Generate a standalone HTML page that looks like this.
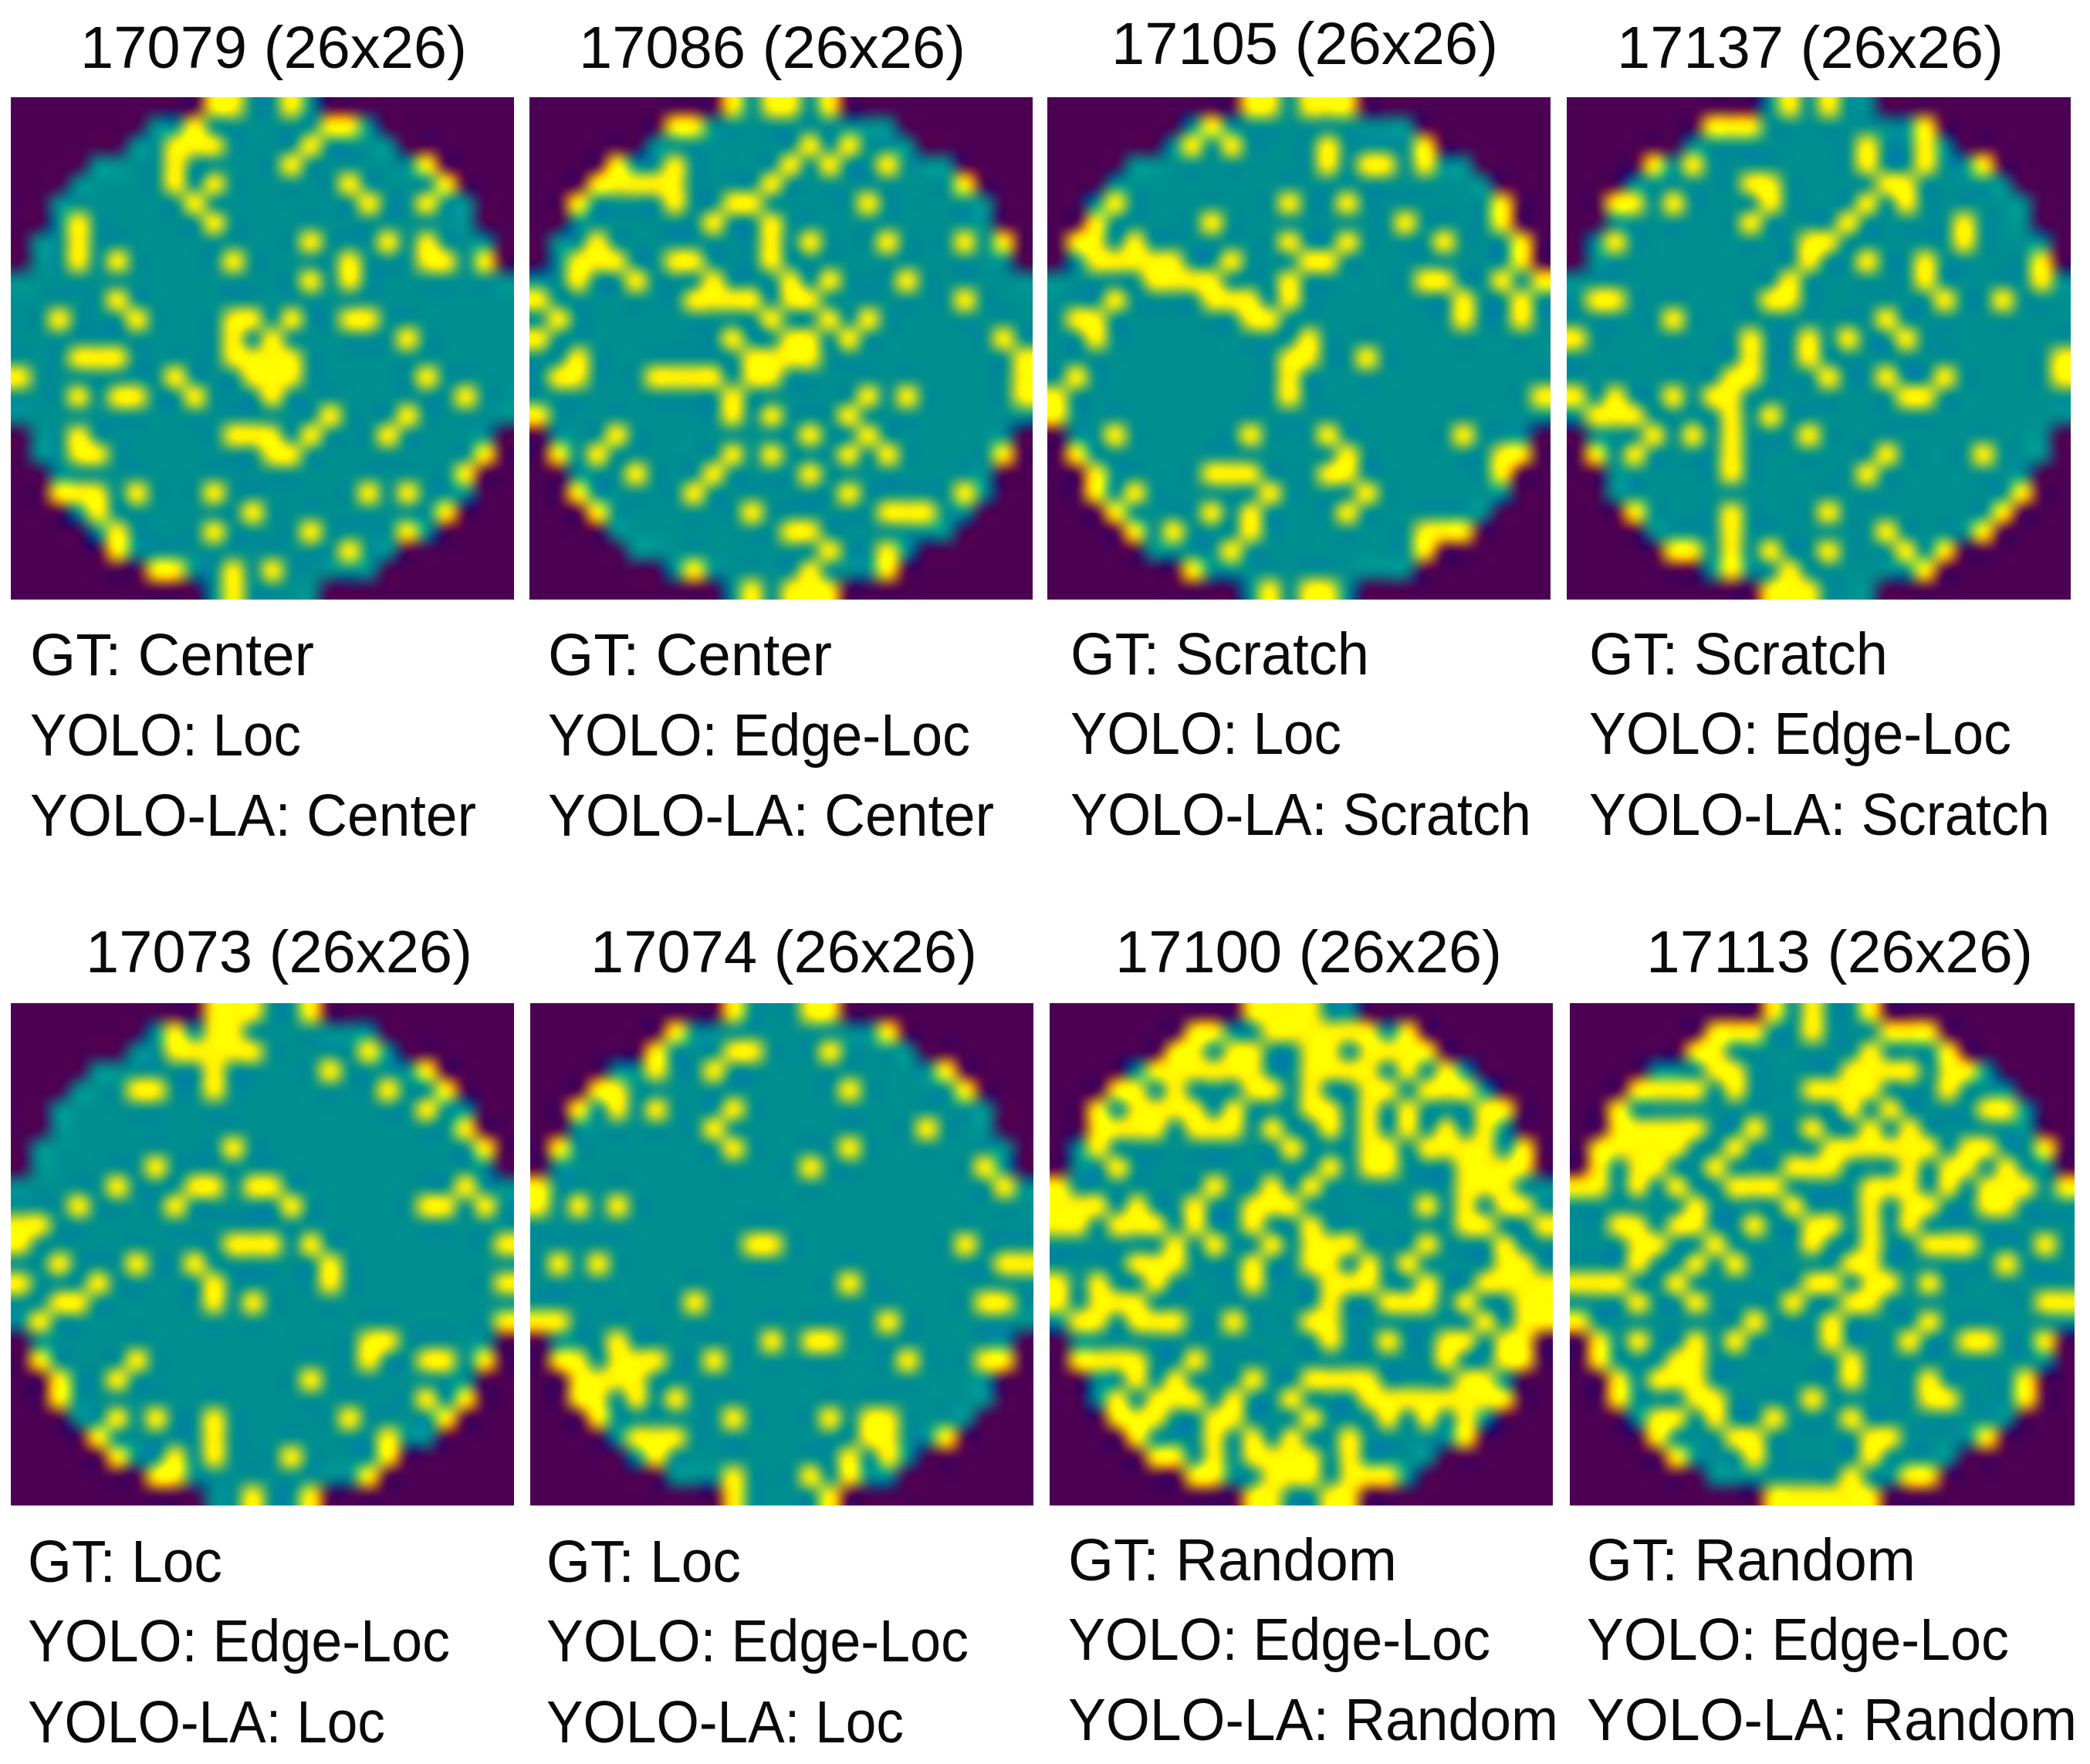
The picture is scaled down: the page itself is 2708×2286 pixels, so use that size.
<!DOCTYPE html>
<html lang="en">
<head>
<meta charset="utf-8">
<title>Wafer map predictions</title>
<style>
  html, body { margin: 0; padding: 0; background: #ffffff; }
  #figure { position: relative; width: 2708px; height: 2286px; overflow: hidden; background: #ffffff; }
  canvas { position: absolute; display: block; }
  svg { position: absolute; left: 0; top: 0; }
  text { font-family: "Liberation Sans", sans-serif; font-size: 77px; fill: #0a0a0a; }
</style>
</head>
<body>
<div id="figure">
  <canvas id="w17079" width="652" height="651" style="left:14px;top:126px"></canvas>
  <canvas id="w17086" width="652" height="651" style="left:686px;top:126px"></canvas>
  <canvas id="w17105" width="652" height="651" style="left:1357px;top:126px"></canvas>
  <canvas id="w17137" width="653" height="651" style="left:2030px;top:126px"></canvas>
  <canvas id="w17073" width="652" height="651" style="left:14px;top:1300px"></canvas>
  <canvas id="w17074" width="652" height="651" style="left:687px;top:1300px"></canvas>
  <canvas id="w17100" width="652" height="651" style="left:1360px;top:1300px"></canvas>
  <canvas id="w17113" width="654" height="651" style="left:2034px;top:1300px"></canvas>

  <svg width="2708" height="2286" viewBox="0 0 2708 2286" xmlns="http://www.w3.org/2000/svg">
    <text x="104" y="88" textLength="501" lengthAdjust="spacingAndGlyphs">17079 (26x26)</text>
    <text x="39" y="875" textLength="368" lengthAdjust="spacingAndGlyphs">GT: Center</text>
    <text x="39" y="979" textLength="351" lengthAdjust="spacingAndGlyphs">YOLO: Loc</text>
    <text x="39" y="1083" textLength="578" lengthAdjust="spacingAndGlyphs">YOLO-LA: Center</text>

    <text x="750" y="88" textLength="501" lengthAdjust="spacingAndGlyphs">17086 (26x26)</text>
    <text x="710" y="875" textLength="368" lengthAdjust="spacingAndGlyphs">GT: Center</text>
    <text x="710" y="979" textLength="547" lengthAdjust="spacingAndGlyphs">YOLO: Edge-Loc</text>
    <text x="710" y="1083" textLength="578" lengthAdjust="spacingAndGlyphs">YOLO-LA: Center</text>

    <text x="1440" y="83" textLength="501" lengthAdjust="spacingAndGlyphs">17105 (26x26)</text>
    <text x="1387" y="874" textLength="387" lengthAdjust="spacingAndGlyphs">GT: Scratch</text>
    <text x="1387" y="977" textLength="351" lengthAdjust="spacingAndGlyphs">YOLO: Loc</text>
    <text x="1387" y="1082" textLength="597" lengthAdjust="spacingAndGlyphs">YOLO-LA: Scratch</text>

    <text x="2095" y="88" textLength="501" lengthAdjust="spacingAndGlyphs">17137 (26x26)</text>
    <text x="2059" y="874" textLength="387" lengthAdjust="spacingAndGlyphs">GT: Scratch</text>
    <text x="2059" y="977" textLength="547" lengthAdjust="spacingAndGlyphs">YOLO: Edge-Loc</text>
    <text x="2059" y="1082" textLength="597" lengthAdjust="spacingAndGlyphs">YOLO-LA: Scratch</text>

    <text x="111" y="1260" textLength="501" lengthAdjust="spacingAndGlyphs">17073 (26x26)</text>
    <text x="36" y="2050" textLength="252" lengthAdjust="spacingAndGlyphs">GT: Loc</text>
    <text x="36" y="2153" textLength="547" lengthAdjust="spacingAndGlyphs">YOLO: Edge-Loc</text>
    <text x="36" y="2258" textLength="463" lengthAdjust="spacingAndGlyphs">YOLO-LA: Loc</text>

    <text x="765" y="1260" textLength="501" lengthAdjust="spacingAndGlyphs">17074 (26x26)</text>
    <text x="708" y="2050" textLength="252" lengthAdjust="spacingAndGlyphs">GT: Loc</text>
    <text x="708" y="2153" textLength="547" lengthAdjust="spacingAndGlyphs">YOLO: Edge-Loc</text>
    <text x="708" y="2258" textLength="463" lengthAdjust="spacingAndGlyphs">YOLO-LA: Loc</text>

    <text x="1445" y="1260" textLength="501" lengthAdjust="spacingAndGlyphs">17100 (26x26)</text>
    <text x="1384" y="2048" textLength="426" lengthAdjust="spacingAndGlyphs">GT: Random</text>
    <text x="1384" y="2151" textLength="547" lengthAdjust="spacingAndGlyphs">YOLO: Edge-Loc</text>
    <text x="1384" y="2255" textLength="635" lengthAdjust="spacingAndGlyphs">YOLO-LA: Random</text>

    <text x="2133" y="1260" textLength="501" lengthAdjust="spacingAndGlyphs">17113 (26x26)</text>
    <text x="2056" y="2048" textLength="426" lengthAdjust="spacingAndGlyphs">GT: Random</text>
    <text x="2056" y="2151" textLength="547" lengthAdjust="spacingAndGlyphs">YOLO: Edge-Loc</text>
    <text x="2056" y="2255" textLength="635" lengthAdjust="spacingAndGlyphs">YOLO-LA: Random</text>
  </svg>
</div>

<script>
// Wafer outline: first and last die column of each of the 26 rows.
const rowFirstDie = [10,7,6,4,3,2,2,1,1,0,0,0,0,0,0,0,0,1,1,2,2,3,4,5,7,10];
const rowLastDie  = [15,18,19,21,22,23,23,24,24,25,25,25,25,25,25,25,25,24,24,23,23,22,21,19,18,15];

// Failed-die columns per row (rows 0..25) for each wafer.
const wafer17079 = [[10,11,14],[9,16,17],[8,9,10,15],[8,14,21],[8,10,17,22],[9,18,21],[3,10],[3,15,19,21],[3,5,11,17,21,22,24],[15,17],[5],[2,6,11,12,14,17,18],[11,13,20],[3,4,5,11,12,13,14],[0,8,12,13,14,21],[3,5,6,9,13,23],[16,20],[3,11,12,13,15,19],[3,4,13,14,24],[23],[2,3,4,6,10,18,20],[4,12,22],[5,10,15,20],[5,17],[7,8,11,13],[11]];
const wafer17086 = [[10,12,13,15],[7,8],[14,16],[4,7,13,15,18],[3,4,5,6,7,12,22],[2,7,10,11,17],[9,12],[3,12,14,18,22,24],[2,3,4,7,8,12],[2,5,9,13,15,19],[0,8,9,10,11,13,14,22],[1,12,15,17],[0,10,13,14,16,24],[2,11,12,13,14,25],[1,2,6,7,8,9,11,12,25],[10,17,19,25],[0,10,12,16],[4,14,17],[1,3,10,12,16,18,24],[5,9,14],[2,8,16,22],[3,11,18,19,20],[13,14],[15,18],[8,14,18],[11,13,14,15]];
const wafer17105 = [[10,11,13,14,15],[8],[7,9,14,19],[14,16,17,19],[],[3,12,15,23],[2,8,18,23],[1,2,4,12,15,20,24],[2,3,4,5,6,9,13,14,24],[5,6,7,8,12,19,20,23,25],[3,8,9,10,12,21,24],[1,2,10,11,21,24],[2,13],[12,13,16],[1,12],[0,12,25],[0],[3,10,14,21],[1,15,23,24],[2,8,9,10,14,15,23],[2,4,11,16],[3,8,10,15],[4,6,10,19,20,21],[9,19],[7],[11,13,14]];
const wafer17137 = [[11,13],[7,8,9,18],[15,18],[4,6,15,18,21],[9,10,16,17],[2,3,5,10,15,17],[9,14,20],[2,12,13,20],[12,15,18,24],[11,18,24],[1,2,10,11,19,22],[5,16],[0,9,12,14,17],[9,12,25],[8,9,13,16,19,25],[0,2,5,7,8,17,18],[1,2,3,8,10],[4,6,8,12],[1,3,8,16,21],[8,15],[23],[3,8,13,22],[8,16,21],[5,6,8,10,13,17,19],[8,11,18],[10,11,12]];
const wafer17073 = [[10,11,12,15],[8,10,11],[8,9,10,11,12,18],[10,16,21],[6,7,10,19,22],[21],[23],[11,24],[7],[5,9,10,12,13,23],[3,8,14,21,22,24],[0,1],[0,11,12,13,15,25],[2,6,9,16],[0,4,10,16,25],[2,3,10,12],[1,25],[18,19],[1,6,18,21,22,24],[2,5,15],[2,21,23],[5,7,10,17,22],[4,10,19],[5,8,10,14,19],[7,8,18],[12,15]];
const wafer17074 = [[10,14,15],[7,18],[6,10,11,15],[6,9,21],[3,4,16,22],[2,4,6,10],[9,20],[1,10,16],[14,23],[0,24],[0,2,4],[],[11,12,22],[1,3,24,25],[16],[8,23,24],[0,1,18],[4,12,14,15],[1,2,4,5,6,9,19,23,24],[2,3,4,5],[2,3,5,7],[3,10,15,17,18],[5,6,7,17,18,21],[6,16,18],[10,14,16],[10,15]];
const wafer17100 = [[10,11,12,13],[7,8,11,12,13,14,15,16,18],[6,7,9,10,13,14,16,17,18,19],[5,6,7,8,9,10,13,14,15,16,18,20],[3,4,6,10,11,13,16,17,19,20,21],[2,4,5,6,7,9,13,14,16,18,22,23],[2,3,4,5,7,8,9,11,14,16,18,20,22],[2,12,16,17,19,20,21,22,24],[3,14,16,17,21,22,23,24],[0,8,11,13,21,22,23],[0,1,2,4,7,10,11,12,19,21,23,24],[0,1,3,4,5,7,10,13,21,22,25],[6,8,11,13,14,15,19,23],[4,5,6,10,13,14,16,18,23,24],[0,2,5,10,14,15,16,19,22,23,24,25],[0,2,3,4,14,17,18,19,21,24,25],[1,2,4,5,6,9,13,14,22,24,25],[14,17,20,21,23,24],[1,2,3,4,7,20,23,24],[4,6,10,13,14,15,16,21,22],[3,5,6,7,9,12,16,17,18,19,20,21,22,23],[3,4,5,8,9,13,17,19,21],[4,8,10,12,15,21],[5,6,8,10,11,12,13,15],[7,8,11,12,13,15,16,17],[10,11,14,15]];
const wafer17113 = [[10,12,15],[7,8,9,12,16,17,18],[6,7,15,19],[7,8,14,15,16,17,19,20],[3,4,5,6,8,12,13,14,15,19],[2,14,16,21,22],[2,3,4,5,6,9,12,15,17],[1,2,3,4,5,8,13,14,15,16,17,18,20,21,24],[1,3,4,7,11,12,13,17,19,20,22],[0,1,3,5,8,9,10,15,16,17,19,21,22,23,25],[6,11,15,17,18,21,22],[2,3,5,6,9,12,13,15,17],[3,4,7,12,15,18,19,20,24],[3,6,8,14,15,22],[0,1,2,5,12,13,15,16,18],[3,6,11,14,15,24,25],[0,9,13,18],[1,3,6,8,13,17,20,21,24],[1,5,6,14],[2,4,5,6,14,18,23],[2,6,7,12,18,19,23],[4,5,7,10,14],[4,8,9,15,16,21],[5,9,15],[14,17,18],[10,11,12,13,14,15]];

// Canvas ids paired with their wafer data.
const waferIds = ['w17079','w17086','w17105','w17137','w17073','w17074','w17100','w17113'];
const waferData = [wafer17079,wafer17086,wafer17105,wafer17137,wafer17073,wafer17074,wafer17100,wafer17113];

const GRID = 26;
const OFF_WAFER = [76, 0, 84];
const GOOD_DIE = [0, 143, 143];
const BAD_DIE = [282, 250, -10];
const SOFTEN_SIGMA = 0.22;
const SOFTEN_TAPS = [-2, -1.5, -1, -0.5, 0, 0.5, 1, 1.5, 2];

function cellColor(defects, row, col) {
  if (defects[row] && defects[row].indexOf(col) >= 0) return BAD_DIE;
  if (col >= rowFirstDie[row] && col <= rowLastDie[row]) return GOOD_DIE;
  return OFF_WAFER;
}

// Axis function: pixel -> neighbouring cells and softened Catmull-Rom weights.
function axisKernel(sizePx) {
  const out = [];
  for (let p = 0; p < sizePx; p++) {
    const weights = new Float64Array(GRID);
    let tapSum = 0;
    SOFTEN_TAPS.forEach(function (z) {
      const tap = Math.exp(-z * z / 2);
      tapSum += tap;
      const g = (p + 0.5) / sizePx * GRID - 0.5 + z * SOFTEN_SIGMA;
      const i = Math.floor(g);
      const t = g - i;
      const w = [
        0.5 * (-t + 2*t*t - t*t*t),
        0.5 * (2 - 5*t*t + 3*t*t*t),
        0.5 * (t + 4*t*t - 3*t*t*t),
        0.5 * (-t*t + t*t*t)
      ];
      for (let n = 0; n < 4; n++) {
        const c = Math.max(0, Math.min(GRID - 1, i - 1 + n));
        weights[c] += tap * w[n];
      }
    });
    const idx = [], w = [];
    for (let c = 0; c < GRID; c++) {
      if (weights[c] !== 0) { idx.push(c); w.push(weights[c] / tapSum); }
    }
    out.push({ idx: idx, w: w });
  }
  return out;
}

function drawWafer(canvas, defects) {
  const W = canvas.width, H = canvas.height;
  const ctx = canvas.getContext('2d');
  const img = ctx.createImageData(W, H);
  const kx = axisKernel(W), ky = axisKernel(H);
  const colors = [];
  for (let r = 0; r < GRID; r++) {
    colors.push([]);
    for (let c = 0; c < GRID; c++) colors[r].push(cellColor(defects, r, c));
  }
  // Horizontal pass, then vertical pass, on the RGB channels.
  const tmp = new Float32Array(GRID * W * 3);
  for (let r = 0; r < GRID; r++) {
    for (let x = 0; x < W; x++) {
      const k = kx[x];
      for (let ch = 0; ch < 3; ch++) {
        let v = 0;
        for (let n = 0; n < k.idx.length; n++) v += k.w[n] * colors[r][k.idx[n]][ch];
        tmp[(r * W + x) * 3 + ch] = v;
      }
    }
  }
  for (let y = 0; y < H; y++) {
    const k = ky[y];
    for (let x = 0; x < W; x++) {
      const o = (y * W + x) * 4;
      for (let ch = 0; ch < 3; ch++) {
        let v = 0;
        for (let n = 0; n < k.idx.length; n++) v += k.w[n] * tmp[(k.idx[n] * W + x) * 3 + ch];
        img.data[o + ch] = Math.max(0, Math.min(255, v));
      }
      img.data[o + 3] = 255;
    }
  }
  ctx.putImageData(img, 0, 0);
}

waferIds.forEach(function (id, i) {
  drawWafer(document.getElementById(id), waferData[i]);
});
</script>
</body>
</html>
